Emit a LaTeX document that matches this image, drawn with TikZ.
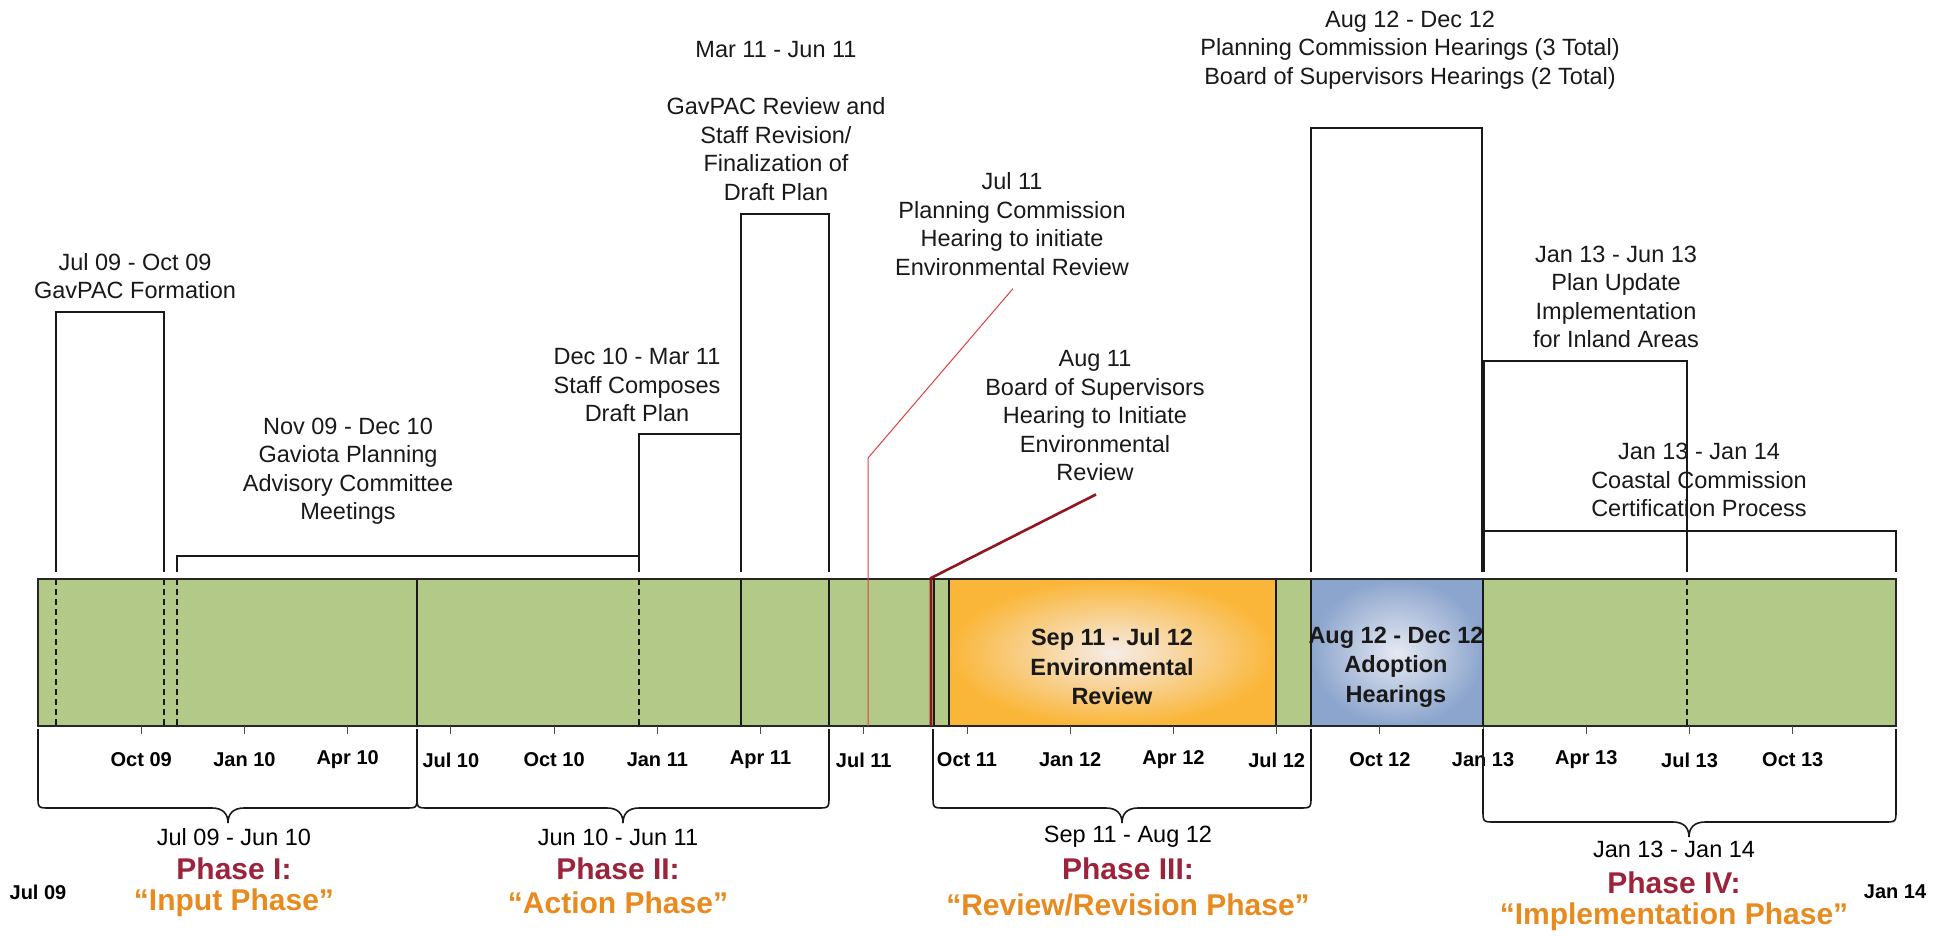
\documentclass[tikz,border=0pt]{standalone}
\usepackage{fontspec}
\setmainfont{Liberation Sans}
\definecolor{barGreen}{RGB}{179,201,135}
\definecolor{envOrange}{RGB}{250,182,56}
\definecolor{envLight}{RGB}{246,236,232}
\definecolor{adBlue}{RGB}{140,165,205}
\definecolor{adLight}{RGB}{230,233,242}
\definecolor{phaseRed}{RGB}{155,35,60}
\definecolor{phaseOrange}{RGB}{232,138,30}
\definecolor{hearRed}{RGB}{228,60,60}
\definecolor{bosRed}{RGB}{145,22,30}
\tikzset{
  lbl/.style={align=center, font=\fontsize{23.5}{28.5}\selectfont, inner sep=2pt, text=black!90},
  boldlbl/.style={align=center, font=\bfseries\fontsize{23.5}{29.5}\selectfont, inner sep=0pt, text=black!90},
  ticklbl/.style={font=\bfseries\fontsize{20}{24}\selectfont, inner sep=1pt},
  tickmark/.style={line width=1pt, black!70},
  stepline/.style={line width=1.6pt, black!90},
  divline/.style={line width=1.4pt, black!90},
  dashline/.style={line width=1.4pt, black!90, dash pattern=on 6pt off 4pt},
  bracepath/.style={line width=1.6pt, black!90},
  phasedate/.style={font=\fontsize{23.5}{28}\selectfont, inner sep=1pt},
  phasename/.style={font=\bfseries\fontsize{30}{34}\selectfont, text=phaseRed, inner sep=1pt},
  phasequote/.style={font=\bfseries\fontsize{30}{34}\selectfont, text=phaseOrange, inner sep=1pt},
}
\newcommand\phasebrace[5]{%
  \draw[bracepath] (#1,729) -- (#1,{#4-12}) .. controls (#1,#4) .. ({#1+12},#4)
    -- ({#3-16},#4) .. controls ({#3-5},#4) and (#3,{#4+6}) .. (#3,#5)
    .. controls (#3,{#4+6}) and ({#3+5},#4) .. ({#3+16},#4)
    -- ({#2-12},#4) .. controls (#2,#4) .. (#2,{#4-12}) -- (#2,729);}
\begin{document}
\begin{tikzpicture}[x=1pt,y=-1pt]
\useasboundingbox (0,0) rectangle (1948,935);

% ---- timeline bar ----
\fill[barGreen] (38,579) rectangle (1896,726);
\shade[inner color=envLight, outer color=envOrange] (949,579) rectangle (1276,726);
\shade[inner color=adLight, outer color=adBlue] (1311,579) rectangle (1483,726);
\draw[divline] (949,579) rectangle (1276,726);
\draw[divline] (1311,579) rectangle (1483,726);
\foreach \x in {56,164,177,639,1687} \draw[dashline] (\x,579) -- (\x,726);
\foreach \x in {417,741,829,934} \draw[divline] (\x,579) -- (\x,726);
\draw[line width=2.8pt, black!90] (1483,579) -- (1483,726);
\draw[line width=2pt, black!85] (38,579) rectangle (1896,726);

% ---- ticks ----
\foreach \m/\lab [count=\i] in {3/Oct 09,6/Jan 10,9/Apr 10,12/Jul 10,15/Oct 10,18/Jan 11,21/Apr 11,24/Jul 11,27/Oct 11,30/Jan 12,33/Apr 12,36/Jul 12,39/Oct 12,42/Jan 13,45/Apr 13,48/Jul 13,51/Oct 13}{
  \draw[tickmark] ({38+34.407*\m},726) -- ({38+34.407*\m},734);
  \node[ticklbl] (tk\i) at ({38+34.407*\m},760) {\lab};
}
\node[ticklbl] (start) at (38,892) {Jul 09};
\node[ticklbl] (finish) at (1895,892) {Jan 14};

% ---- step boxes above the bar ----
\draw[stepline] (56,572) |- (164,312) -- (164,572);
\draw[stepline] (177,572) |- (639,556) -- (639,572);
\draw[stepline] (639,572) |- (741,434) -- (741,572);
\draw[stepline] (741,572) |- (829,214) -- (829,572);
\draw[stepline] (1311,572) |- (1482,128) -- (1482,572);
\draw[stepline] (1484,572) |- (1687,361) -- (1687,572);
\draw[stepline] (1484,572) |- (1896,531) -- (1896,572);

% ---- labels above ----
\node[lbl] (gav) at (135,276) {Jul 09 - Oct 09\\GavPAC Formation};
\node[lbl] (com) at (348,471) {Nov 09 - Dec 10\\Gaviota Planning\\Advisory Committee\\Meetings};
\node[lbl] (staff) at (637,385) {Dec 10 - Mar 11\\Staff Composes\\Draft Plan};
\node[lbl] (draft) at (776,121) {Mar 11 - Jun 11\\[28.5pt]GavPAC Review and\\Staff Revision/\\Finalization of\\Draft Plan};
\node[lbl] (jul11) at (1012,224) {Jul 11\\Planning Commission\\Hearing to initiate\\Environmental Review};
\node[lbl] (aug11) at (1095,416) {Aug 11\\Board of Supervisors\\Hearing to Initiate\\Environmental\\Review};
\node[lbl] (aug12) at (1410,50) {Aug 12 - Dec 12\\Planning Commission Hearings (3 Total)\\Board of Supervisors Hearings (2 Total)};
\node[lbl] (jan13a) at (1616,297) {Jan 13 - Jun 13\\Plan Update\\Implementation\\for Inland Areas};
\node[lbl] (jan13b) at (1699,480) {Jan 13 - Jan 14\\Coastal Commission\\Certification Process};

% ---- hearing markers ----
\draw[hearRed, line width=1pt] (jul11.south) ++(1,11) -- (868,458) -- (868,726);
\draw[bosRed, line width=2.6pt] (aug11.south) ++(1,11) -- (931,578) -- (931,726);

% ---- labels inside bar ----
\node[boldlbl] (env) at (1112,667) {Sep 11 - Jul 12\\Environmental\\Review};
\node[boldlbl] (adopt) at (1396,667) {Aug 12 - Dec 12\\Adoption\\Hearings};

% ---- phase braces ----
\phasebrace{38}{417}{228}{808}{823}
\phasebrace{417}{829}{623}{808}{823}
\phasebrace{933}{1311}{1122}{808}{823}
\phasebrace{1483}{1896}{1689}{822}{837}

% ---- phase labels ----
\node[phasedate] (p1d) at (234,837) {Jul 09 - Jun 10};
\node[phasename] (p1n) at (234,869) {Phase I:};
\node[phasequote] (p1q) at (234,903) {“Input Phase”};
\node[phasedate] (p2d) at (618,837) {Jun 10 - Jun 11};
\node[phasename] (p2n) at (618,869) {Phase II:};
\node[phasequote] (p2q) at (618,903) {“Action Phase”};
\node[phasedate] (p3d) at (1128,837) {Sep 11 - Aug 12};
\node[phasename] (p3n) at (1128,869) {Phase III:};
\node[phasequote] (p3q) at (1128,905) {“Review/Revision Phase”};
\node[phasedate] (p4d) at (1674,849) {Jan 13 - Jan 14};
\node[phasename] (p4n) at (1674,883) {Phase IV:};
\node[phasequote] (p4q) at (1674,917) {“Implementation Phase”};
\end{tikzpicture}
\end{document}
